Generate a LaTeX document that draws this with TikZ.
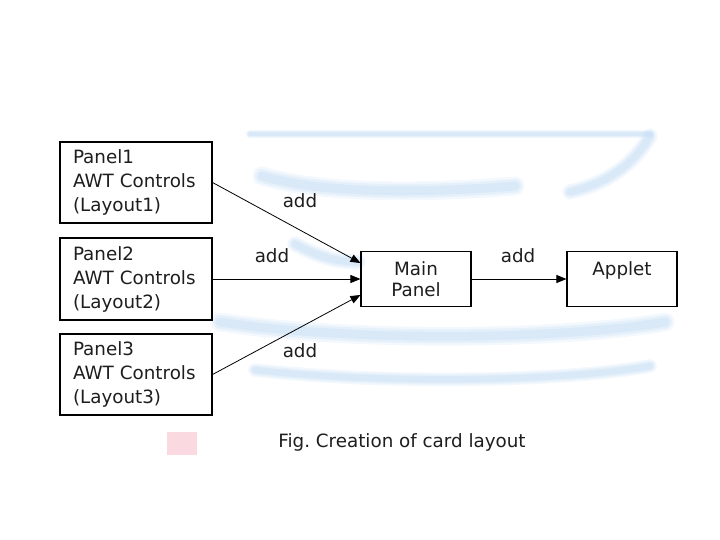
\documentclass[tikz,border=0pt]{standalone}
\usepackage{fontspec}
\setmainfont{DejaVu Sans}
\usetikzlibrary{arrows.meta,calc}
\definecolor{wmblue}{RGB}{200,224,246}
\definecolor{wmpink}{RGB}{250,218,224}
\definecolor{txt}{RGB}{30,30,30}
\newcommand\wmstroke[2]{%
  \foreach \w/\o in {1.7/0.22,1.25/0.3,0.8/0.4}
    {\draw[draw=wmblue,line cap=round,line width=\w*#1,opacity=\o] #2;}}
\begin{document}
\begin{tikzpicture}[x=1pt,y=-1pt,
  panelbox/.style={draw=black,line width=1.1pt,minimum width=152pt,align=left,
    text width=126pt,inner xsep=13pt,inner ysep=0pt,text=txt,
    font=\fontsize{18.3}{24}\selectfont},
  mainbox/.style={draw=black,line width=1.1pt,minimum width=110pt,minimum height=55pt,
    align=center,inner sep=0pt,text=txt,font=\fontsize{18.3}{21}\selectfont},
  conn/.style={draw=black,line width=0.8pt,-{Triangle[length=10pt,width=8pt]}},
  lbl/.style={text=txt,font=\fontsize{18.3}{22}\selectfont,inner sep=0pt}]
\useasboundingbox (0,0) rectangle (720,540);
\fill[white] (0,0) rectangle (720,540);
% faint watermark swooshes
\wmstroke{5pt}{(250,134) -- (650,134)}
\wmstroke{11pt}{(262,176) .. controls (330,196) and (440,192) .. (515,186)}
\wmstroke{9pt}{(650,136) .. controls (630,170) and (600,185) .. (570,192)}
\wmstroke{9pt}{(295,244) .. controls (320,258) and (340,262) .. (358,262)}
\wmstroke{11pt}{(220,322) .. controls (350,342) and (560,340) .. (665,322)}
\wmstroke{8pt}{(255,370) .. controls (380,384) and (560,382) .. (650,366)}
\fill[wmpink] (167,432) rectangle (197,455);
% nodes
\node[panelbox,minimum height=81pt] (p1) at (136,182.5) {Panel1\\AWT Controls\\(Layout1)};
\node[panelbox,minimum height=82pt] (p2) at (136,279) {Panel2\\AWT Controls\\(Layout2)};
\node[panelbox,minimum height=81pt] (p3) at (136,374.5) {Panel3\\AWT Controls\\(Layout3)};
\node[mainbox] (mp) at (416,279) {Main\\Panel};
\node[mainbox] (ap) at (622,279) {Applet\\\mbox{}};
% connectors
\draw[conn] (p1.east) -- ($(mp.west)+(0,-16)$);
\draw[conn] (p2.east) -- (mp.west);
\draw[conn] (p3.east) -- ($(mp.west)+(0,16)$);
\draw[conn] (mp.east) -- (ap.west);
% labels
\node[lbl] (l1) at (300,201) {add};
\node[lbl] (l2) at (272,256) {add};
\node[lbl] (l3) at (300,351) {add};
\node[lbl] (l4) at (518,256) {add};
\node[lbl] (cap) at (402,442) {Fig.\ Creation of card layout};
\end{tikzpicture}
\end{document}
